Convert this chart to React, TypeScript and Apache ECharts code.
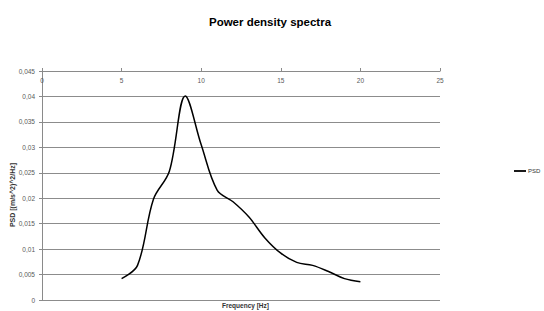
import React, { useEffect, useRef } from "react";
import * as echarts from "echarts";

const frequencies = [5, 6, 7, 8, 9, 10, 11, 12, 13, 14, 15, 16, 17, 18, 19, 20];
const psdValues = [0.0042, 0.0068, 0.0198, 0.0253, 0.0401, 0.0305, 0.0216, 0.0193, 0.0163, 0.0122, 0.0092, 0.0074, 0.0068, 0.0056, 0.0042, 0.0036];
const titleText = "Power density spectra";
const xAxisTitle = "Frequency [Hz]";
const yAxisTitle = "PSD [(m/s^2)^2/Hz]";
const seriesName = "PSD";

const FONT = "Liberation Sans";

export default function App() {
  const ref = useRef<HTMLDivElement>(null);
  useEffect(() => {
    if (!ref.current) return;
    const chart = echarts.init(ref.current, null, { renderer: "svg" });
    chart.setOption({
      animation: false,
      backgroundColor: "#ffffff",
      title: {
        text: titleText,
        left: 265,
        top: 11,
        textAlign: "center",
        textStyle: { fontFamily: FONT, fontSize: 11.5, fontWeight: "bold", color: "#000" },
      },
      legend: {
        left: 514,
        top: 168,
        padding: 0,
        itemWidth: 12,
        itemHeight: 6,
        itemGap: 2,
        icon: "path://M0,0 L12,0 L12,1.8 L0,1.8 Z",
        textStyle: { fontFamily: FONT, fontSize: 6, color: "#333", padding: [0, 0, 0, -3] },
        data: [seriesName],
      },
      grid: { left: 42, right: 104, top: 71, bottom: 11, containLabel: false },
      xAxis: {
        type: "value",
        position: "top",
        min: 0,
        max: 25,
        interval: 5,
        axisLine: { show: true, onZero: false, lineStyle: { color: "#8a8a8a", width: 1 } },
        axisTick: { show: true, inside: false, length: 3, lineStyle: { color: "#8a8a8a" } },
        axisLabel: { inside: true, margin: 6, fontFamily: FONT, fontSize: 6.5, color: "#595959" },
        splitLine: { show: false },
      },
      yAxis: {
        type: "value",
        min: 0,
        max: 0.045,
        interval: 0.005,
        axisLine: { show: true, lineStyle: { color: "#8a8a8a", width: 1 } },
        axisTick: { show: true, length: 3, lineStyle: { color: "#8a8a8a" } },
        axisLabel: {
          margin: 7,
          fontFamily: FONT,
          fontSize: 6.5,
          color: "#595959",
          formatter: (v: number) => String(Number(v.toFixed(3))).replace(".", ","),
        },
        splitLine: { show: true, lineStyle: { color: "#8c8c8c", width: 1 } },
      },
      graphic: [
        {
          type: "text",
          left: 222,
          top: 302,
          style: { text: xAxisTitle, fontFamily: FONT, fontSize: 6.5, fontWeight: "bold", fill: "#333" },
        },
        {
          type: "text",
          x: 12,
          y: 195,
          rotation: Math.PI / 2,
          style: {
            text: yAxisTitle,
            fontFamily: FONT,
            fontSize: 7,
            fontWeight: "bold",
            fill: "#333",
            align: "center",
            verticalAlign: "middle",
          },
        },
      ],
      series: [
        {
          name: seriesName,
          type: "line",
          data: frequencies.map((f, i) => [f, psdValues[i]]),
          smooth: 0.35,
          showSymbol: false,
          symbol: "none",
          lineStyle: { color: "#000", width: 1.5 },
          itemStyle: { color: "#000" },
        },
      ],
    });
    return () => chart.dispose();
  }, []);
  return <div ref={ref} style={{ width: 544, height: 311, position: "absolute", left: 0, top: 0 }} />;
}
